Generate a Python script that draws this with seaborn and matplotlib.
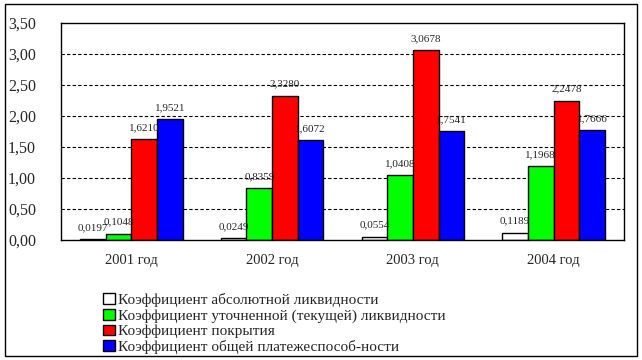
import numpy as np
import matplotlib.pyplot as plt
import pandas as pd
import seaborn as sns
from matplotlib.patches import Rectangle
from matplotlib.ticker import FuncFormatter

years = ["2001 год", "2002 год", "2003 год", "2004 год"]
series = ["Коэффициент абсолютной ликвидности",
          "Коэффициент уточненной (текущей) ликвидности",
          "Коэффициент покрытия",
          "Коэффициент общей платежеспособ-ности"]
abs_liq = [0.0197, 0.0249, 0.0554, 0.1189]
quick_liq = [0.1048, 0.8359, 1.0408, 1.1968]
coverage = [1.6210, 2.3280, 3.0678, 2.2478]
solvency = [1.9521, 1.6072, 1.7541, 1.7666]
colors = ["#FFFFFF", "#00FF00", "#FF0000", "#0000FF"]

rows = []
for name, vals in zip(series, [abs_liq, quick_liq, coverage, solvency]):
    for y, v in zip(years, vals):
        rows.append({"year": y, "series": name, "value": v})
df = pd.DataFrame(rows)

sns.set_style("white")
plt.rcParams['font.family'] = ['Liberation Serif', 'DejaVu Serif']

fig = plt.figure(figsize=(6.42, 3.60), dpi=100)
ax = fig.add_axes([61/642, 1-240/360, (624-61)/642, (240-23)/360])

sns.barplot(data=df, x="year", y="value", hue="series", palette=colors,
            saturation=1, edgecolor="black", linewidth=1, width=0.73, ax=ax,
            legend=False)

ax.set_ylim(0, 3.5)
ax.set_xlim(-0.5, 3.5)
ax.set_yticks(np.arange(0, 3.51, 0.5))
ax.yaxis.set_major_formatter(FuncFormatter(lambda v, p: f"{v:.2f}".replace(".", ",")))
ax.set_xticks(range(4))
ax.set_xticklabels(years)
ax.set_xticks(np.arange(-0.5, 4, 1), minor=True)
ax.tick_params(axis="x", which="major", length=0, pad=10, labelsize=10.5)
ax.tick_params(axis="x", which="minor", length=5, width=1, color="black", direction="out")
ax.tick_params(axis="y", length=4, width=1, color="black", direction="out", labelsize=11.5, pad=14)
for gy in np.arange(0.5, 3.01, 0.5):
    ax.axhline(gy, color="black", linestyle=(0, (3, 2)), linewidth=0.8, zorder=0)
for s in ax.spines.values():
    s.set_color("black")
    s.set_linewidth(1)
ax.set_xlabel("")
ax.set_ylabel("")

for cont in ax.containers:
    labels = [f"{b.get_height():.4f}".replace(".", ",") for b in cont]
    ax.bar_label(cont, labels=labels, padding=5, fontsize=8)

handles = [Rectangle((0, 0), 1, 1, facecolor=c, edgecolor="black", linewidth=1) for c in colors]
fig.legend(handles, series, loc="upper left", bbox_to_anchor=(103/642, 1-293/360),
           frameon=False, fontsize=11, handlelength=0.8, handleheight=0.7,
           handletextpad=0.15, labelspacing=0.12, borderaxespad=0, borderpad=0)

fig.patches.append(Rectangle((5/642, 4/360), (637-5)/642, (356-4)/360,
                             transform=fig.transFigure, fill=False,
                             edgecolor="black", linewidth=1))

fig.savefig("out.png", dpi=100)
